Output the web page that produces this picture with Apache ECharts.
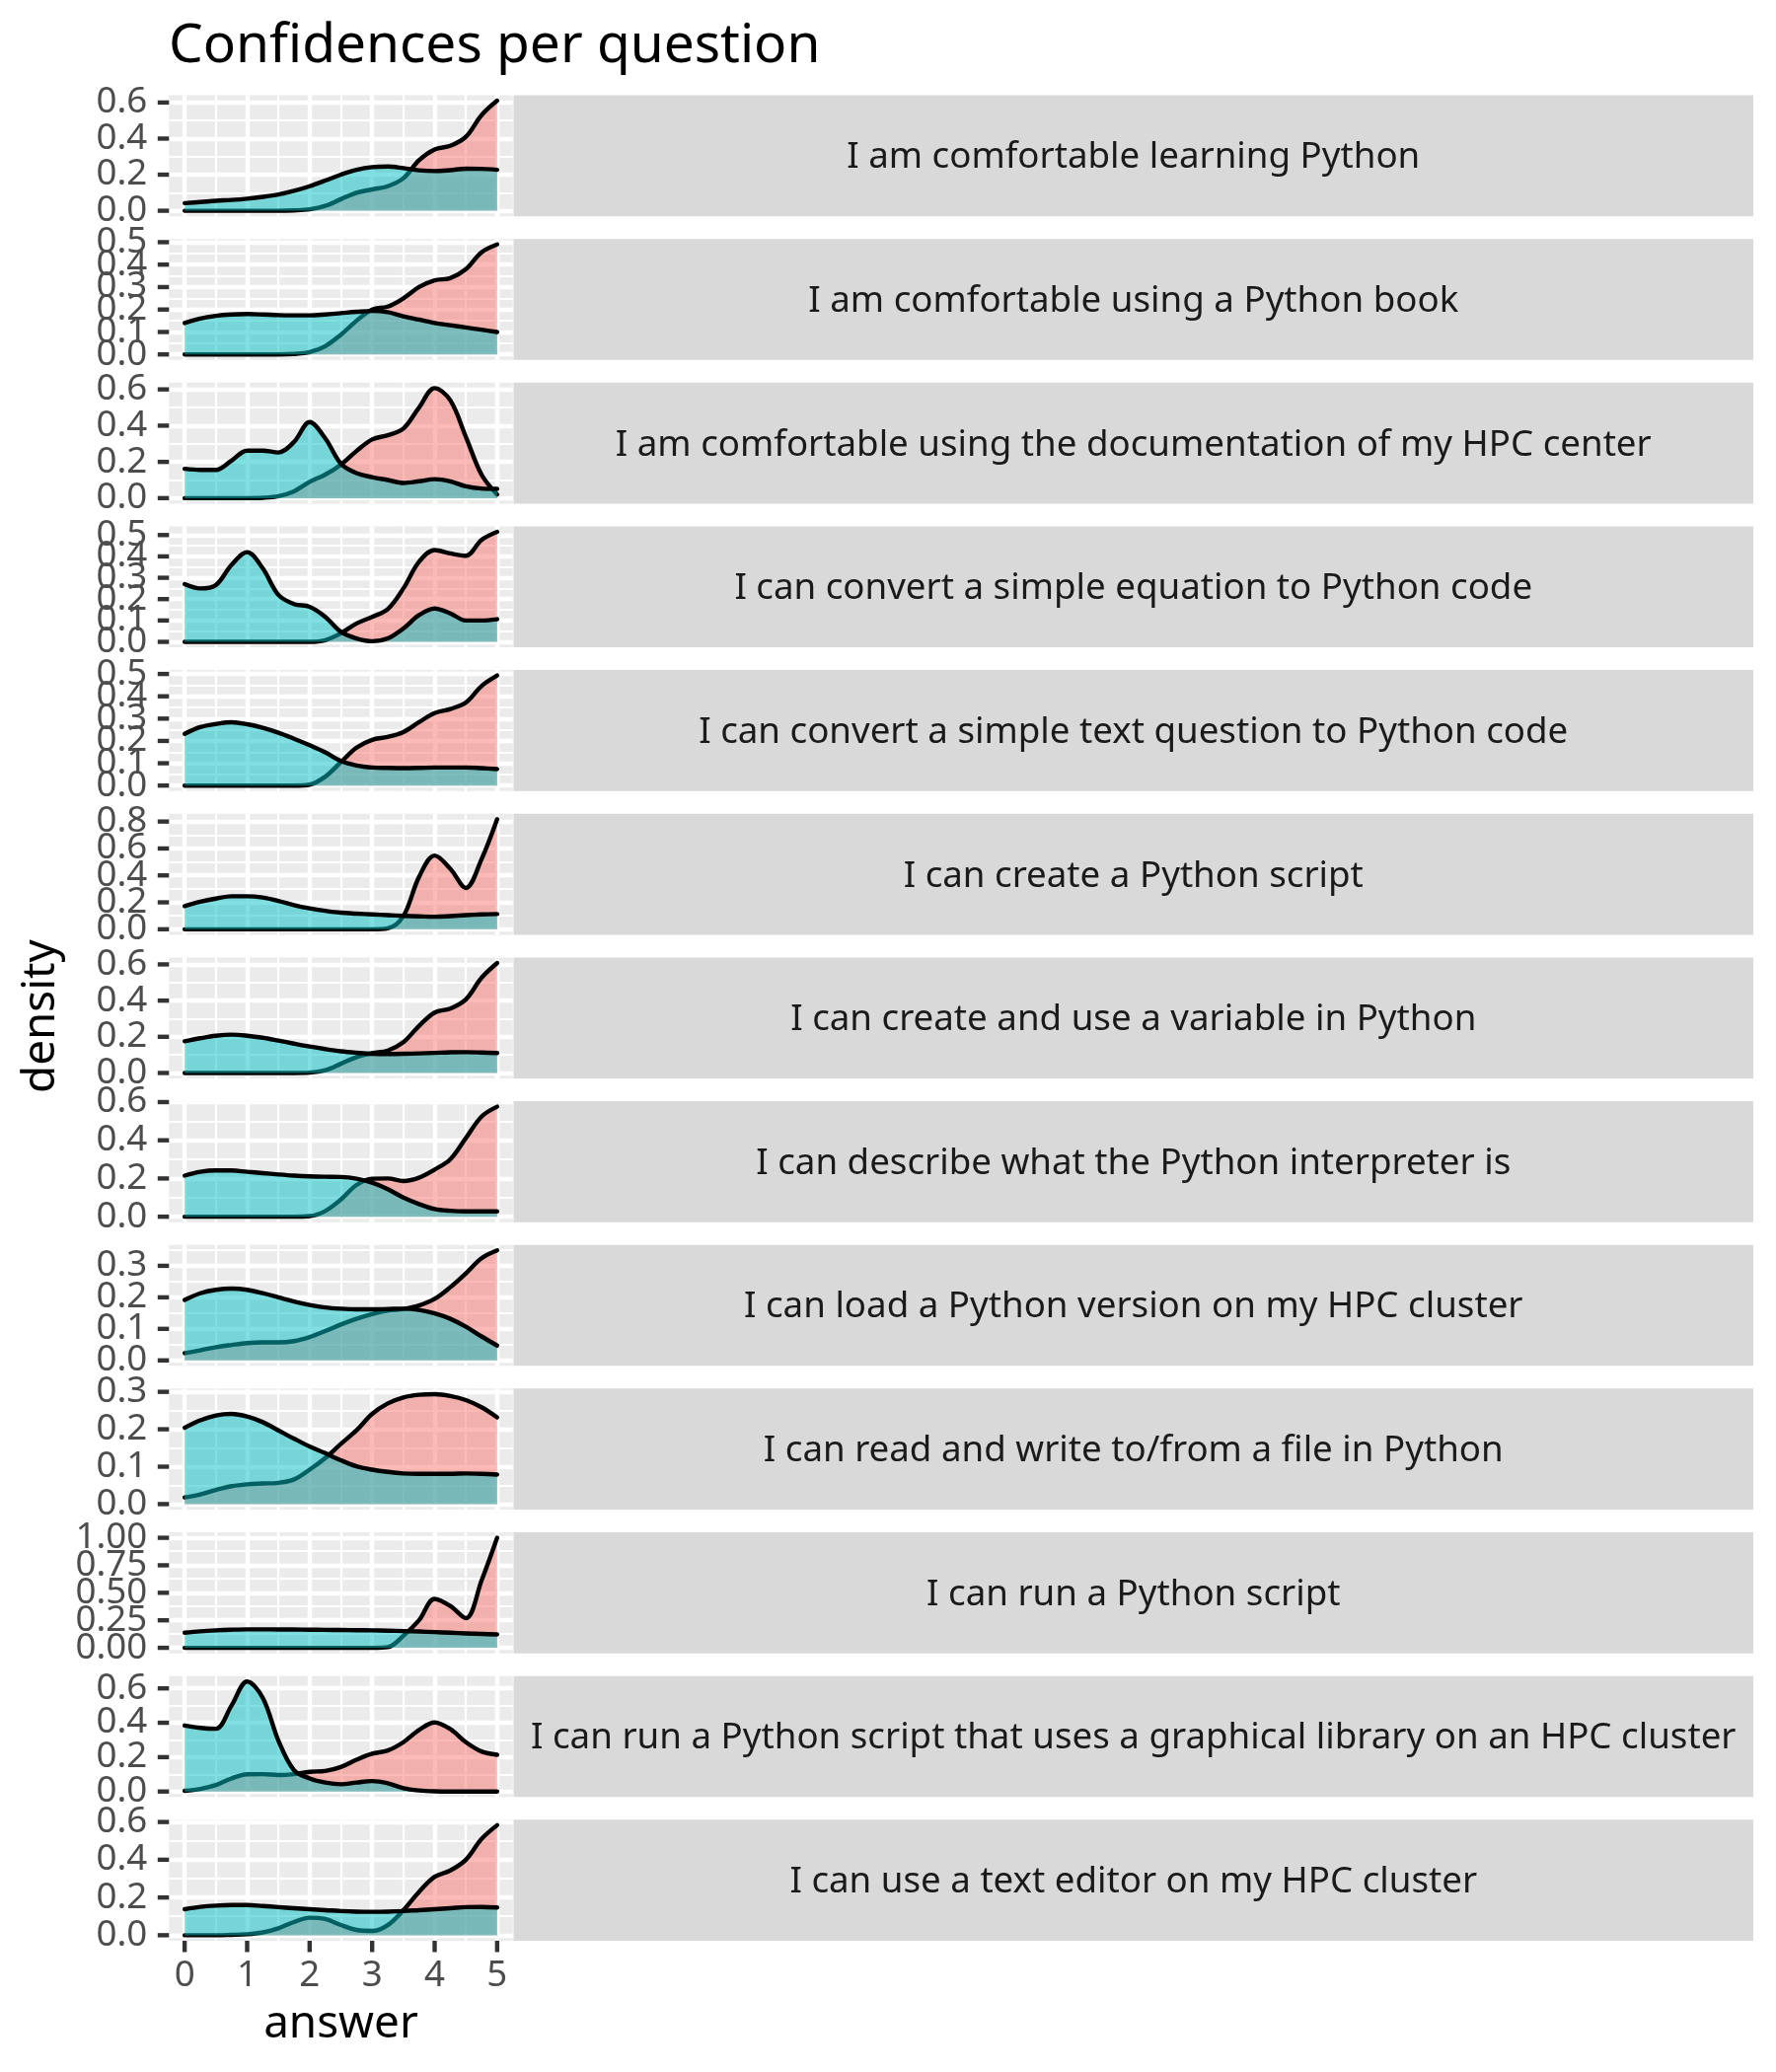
<!DOCTYPE html>
<html>
<head>
<meta charset="utf-8">
<script src="https://cdn.jsdelivr.net/npm/echarts@6/dist/echarts.min.js"></script>
<style>
html,body{margin:0;padding:0;background:#ffffff;}
#chart{width:1800px;height:2100px;}
</style>
</head>
<body>
<div id="chart"></div>
<script>
// ---------------- data ----------------
const questions = [
  "I am comfortable learning Python",
  "I am comfortable using a Python book",
  "I am comfortable using the documentation of my HPC center",
  "I can convert a simple equation to Python code",
  "I can convert a simple text question to Python code",
  "I can create a Python script",
  "I can create and use a variable in Python",
  "I can describe what the Python interpreter is",
  "I can load a Python version on my HPC cluster",
  "I can read and write to/from a file in Python",
  "I can run a Python script",
  "I can run a Python script that uses a graphical library on an HPC cluster",
  "I can use a text editor on my HPC cluster"
];

// answer values at which the densities were read
const answerValues = [0,0.25,0.5,0.75,1,1.25,1.5,1.75,2,2.25,2.5,2.75,3,3.25,3.5,3.75,4,4.25,4.5,4.75,5];

const q01_pink = [0,0,0,0,0,0,0,0.002,0.008,0.027,0.064,0.1,0.118,0.136,0.18,0.28,0.34,0.36,0.41,0.53,0.61];
const q01_cyan = [0.042,0.048,0.055,0.06,0.067,0.077,0.09,0.11,0.136,0.167,0.2,0.227,0.242,0.245,0.236,0.224,0.22,0.225,0.233,0.232,0.227];

const q02_pink = [0,0,0,0,0,0,0,0.002,0.01,0.037,0.088,0.15,0.2,0.213,0.25,0.3,0.33,0.34,0.38,0.455,0.49];
const q02_cyan = [0.14,0.16,0.172,0.178,0.18,0.178,0.175,0.174,0.174,0.178,0.184,0.19,0.194,0.188,0.17,0.155,0.14,0.13,0.12,0.11,0.1];

const q03_pink = [0,0,0,0,0,0.002,0.011,0.038,0.09,0.13,0.185,0.26,0.324,0.347,0.384,0.5,0.607,0.54,0.338,0.13,0.02];
const q03_cyan = [0.162,0.156,0.156,0.207,0.262,0.262,0.252,0.31,0.42,0.33,0.19,0.138,0.116,0.1,0.084,0.093,0.105,0.093,0.065,0.053,0.051];

const q04_pink = [0,0,0,0,0,0,0,0,0,0.008,0.04,0.086,0.117,0.153,0.25,0.375,0.43,0.414,0.403,0.477,0.515];
const q04_cyan = [0.27,0.25,0.266,0.36,0.42,0.344,0.22,0.177,0.164,0.117,0.047,0.016,0.003,0.016,0.0625,0.125,0.156,0.133,0.1,0.1,0.106];

const q05_pink = [0,0,0,0,0,0,0,0,0.004,0.04,0.105,0.17,0.205,0.218,0.24,0.284,0.325,0.343,0.372,0.446,0.493];
const q05_cyan = [0.232,0.262,0.276,0.284,0.275,0.259,0.237,0.21,0.181,0.149,0.11,0.09,0.081,0.079,0.078,0.079,0.081,0.081,0.081,0.078,0.074];

const q06_pink = [0,0,0,0,0,0,0,0,0,0,0,0,0,0.007,0.098,0.388,0.547,0.45,0.307,0.52,0.817];
const q06_cyan = [0.172,0.204,0.228,0.245,0.245,0.236,0.211,0.179,0.155,0.137,0.123,0.116,0.11,0.105,0.1,0.096,0.093,0.098,0.105,0.11,0.113];

const q07_pink = [0,0,0,0,0,0,0,0,0.002,0.015,0.051,0.088,0.11,0.124,0.17,0.26,0.334,0.356,0.407,0.526,0.608];
const q07_cyan = [0.175,0.192,0.206,0.212,0.206,0.195,0.179,0.162,0.146,0.132,0.12,0.112,0.106,0.105,0.106,0.108,0.111,0.114,0.115,0.113,0.11];

const q08_pink = [0,0,0,0,0,0,0,0,0.003,0.03,0.09,0.166,0.199,0.2,0.187,0.204,0.247,0.3,0.412,0.524,0.576];
const q08_cyan = [0.215,0.235,0.242,0.242,0.235,0.228,0.221,0.215,0.211,0.209,0.208,0.199,0.178,0.144,0.1,0.066,0.04,0.031,0.028,0.028,0.028];

const q09_pink = [0.023,0.032,0.042,0.049,0.055,0.057,0.057,0.061,0.074,0.093,0.114,0.132,0.147,0.158,0.163,0.174,0.195,0.232,0.276,0.324,0.349];
const q09_cyan = [0.192,0.213,0.224,0.228,0.224,0.213,0.2,0.187,0.176,0.168,0.164,0.162,0.162,0.163,0.164,0.16,0.149,0.132,0.107,0.076,0.047];

const q10_pink = [0.018,0.026,0.038,0.048,0.053,0.055,0.057,0.066,0.092,0.123,0.161,0.197,0.241,0.269,0.285,0.292,0.294,0.289,0.278,0.259,0.232];
const q10_cyan = [0.204,0.224,0.237,0.241,0.234,0.219,0.197,0.175,0.154,0.136,0.117,0.101,0.092,0.086,0.082,0.081,0.081,0.081,0.082,0.081,0.079];

const q11_pink = [0,0,0,0,0,0,0,0,0,0,0,0,0,0.006,0.11,0.25,0.445,0.38,0.27,0.61,1.0];
const q11_cyan = [0.137,0.15,0.159,0.165,0.168,0.168,0.167,0.166,0.165,0.163,0.162,0.16,0.159,0.156,0.152,0.148,0.143,0.137,0.131,0.126,0.122];

const q12_pink = [0.004,0.015,0.038,0.076,0.1,0.101,0.096,0.101,0.115,0.12,0.143,0.185,0.22,0.239,0.287,0.358,0.402,0.363,0.287,0.233,0.214];
const q12_cyan = [0.384,0.37,0.365,0.5,0.64,0.545,0.296,0.124,0.076,0.052,0.042,0.052,0.061,0.048,0.019,0.006,0.001,0,0,0,0];

const q13_pink = [0,0,0,0.002,0.005,0.015,0.037,0.07,0.093,0.086,0.054,0.028,0.023,0.054,0.133,0.23,0.31,0.343,0.4,0.51,0.583];
const q13_cyan = [0.138,0.15,0.157,0.16,0.16,0.155,0.149,0.143,0.138,0.133,0.128,0.125,0.124,0.125,0.128,0.133,0.138,0.143,0.149,0.15,0.147];

const pinkDensities = [q01_pink,q02_pink,q03_pink,q04_pink,q05_pink,q06_pink,q07_pink,q08_pink,q09_pink,q10_pink,q11_pink,q12_pink,q13_pink];
const cyanDensities = [q01_cyan,q02_cyan,q03_cyan,q04_cyan,q05_cyan,q06_cyan,q07_cyan,q08_cyan,q09_cyan,q10_cyan,q11_cyan,q12_cyan,q13_cyan];

// tick labels
const yTickLabels = [
  ["0.0","0.2","0.4","0.6"],
  ["0.0","0.1","0.2","0.3","0.4","0.5"],
  ["0.0","0.2","0.4","0.6"],
  ["0.0","0.1","0.2","0.3","0.4","0.5"],
  ["0.0","0.1","0.2","0.3","0.4","0.5"],
  ["0.0","0.2","0.4","0.6","0.8"],
  ["0.0","0.2","0.4","0.6"],
  ["0.0","0.2","0.4","0.6"],
  ["0.0","0.1","0.2","0.3"],
  ["0.0","0.1","0.2","0.3"],
  ["0.00","0.25","0.50","0.75","1.00"],
  ["0.0","0.2","0.4","0.6"],
  ["0.0","0.2","0.4","0.6"]
];
const xTickLabels = ["0","1","2","3","4","5"];

// ---------------- layout / style ----------------
const FONT = '"Noto Sans", "DejaVu Sans", sans-serif';
const PANEL_TOP = 96.5, PANEL_H = 122.65, PANEL_STEP = 145.65;
const GRID_LEFT = 171.3, GRID_W = 348.4;
const STRIP_X = 520.5, STRIP_R = 1777;
const LW = 4.4, LW_MINOR = 2.2, TICK_LEN = 11.5;
const PINK = '#F8766D', CYAN = '#00BFC4', TICK_COLOR = '#333333';
const X_MIN = -0.25, X_MAX = 5.25;

const chart = echarts.init(document.getElementById('chart'), null, {renderer: 'canvas'});

const grids = [], xAxes = [], yAxes = [], series = [], graphics = [];
const xTicks = xTickLabels.map(Number);
const xMinor = [];
for (let k = 0; k < xTicks.length - 1; k++) xMinor.push((xTicks[k] + xTicks[k + 1]) / 2);

const labelStyle = {color: '#4D4D4D', fontSize: 36.7, fontFamily: FONT};

for (let i = 0; i < questions.length; i++) {
  const top = PANEL_TOP + i * PANEL_STEP;
  const isLast = i === questions.length - 1;
  const pink = pinkDensities[i], cyan = cyanDensities[i];
  const ymax = Math.max(...pink, ...cyan);
  const ymin = -0.05 * ymax, ytop = 1.05 * ymax;
  const yt = yTickLabels[i].map(Number);
  const step = yt[1] - yt[0];
  const yMinor = [];
  for (let k = 0; k < yt.length; k++) {
    const m = yt[k] + step / 2;
    if (m > ymin && m < ytop) yMinor.push(m);
  }
  const ytEven = yt.filter((v, k) => k % 2 === 0);
  const ytOdd = yt.filter((v, k) => k % 2 === 1);
  const fmt = v => { const idx = yt.findIndex(t => Math.abs(t - v) < 1e-9); return idx >= 0 ? yTickLabels[i][idx] : ''; };

  grids.push({left: GRID_LEFT, top: top, width: GRID_W, height: PANEL_H,
    show: true, backgroundColor: '#EBEBEB', borderWidth: 0, containLabel: false});

  xAxes.push({
    type: 'value', gridIndex: i, min: X_MIN, max: X_MAX,
    axisLine: {show: false, onZero: false}, splitLine: {show: false}, axisTick: {show: false},
    axisLabel: Object.assign({show: isLast, customValues: xTicks, showMinLabel: true, showMaxLabel: true, hideOverlap: false,
      margin: 17,
      formatter: v => { const idx = xTicks.findIndex(t => Math.abs(t - v) < 1e-9); return idx >= 0 ? xTickLabels[idx] : ''; }}, labelStyle)
  });

  // primary y axis: labels of even positions
  yAxes.push({
    type: 'value', gridIndex: i, min: ymin, max: ytop, position: 'left',
    axisLine: {show: false, onZero: false}, splitLine: {show: false}, axisTick: {show: false},
    axisLabel: Object.assign({show: true, customValues: ytEven, showMinLabel: true, showMaxLabel: true, hideOverlap: false,
      margin: 22, formatter: fmt}, labelStyle)
  });
  // twin y axis on the same side: labels of odd positions (so no label gets dropped)
  yAxes.push({
    type: 'value', gridIndex: i, min: ymin, max: ytop, position: 'left', offset: 0,
    axisLine: {show: false, onZero: false}, splitLine: {show: false}, axisTick: {show: false},
    axisLabel: Object.assign({show: ytOdd.length > 0, customValues: ytOdd, showMinLabel: true, showMaxLabel: true, hideOverlap: false,
      margin: 22, formatter: fmt}, labelStyle)
  });
  const yIdx = 2 * i;

  // panel grid lines (white) drawn through the axes' scales
  const gl = [];
  yMinor.forEach(v => gl.push({yAxis: v, lineStyle: {width: LW_MINOR}}));
  xMinor.forEach(v => gl.push({xAxis: v, lineStyle: {width: LW_MINOR}}));
  yt.forEach(v => gl.push({yAxis: v, lineStyle: {width: LW}}));
  xTicks.forEach(v => gl.push({xAxis: v, lineStyle: {width: LW}}));
  series.push({
    type: 'line', name: 'grid' + i, xAxisIndex: i, yAxisIndex: yIdx, data: [], silent: true, z: 1,
    markLine: {silent: true, z: 1, animation: false, symbol: ['none', 'none'], label: {show: false},
      lineStyle: {color: '#FFFFFF', type: 'solid', width: LW}, emphasis: {disabled: true}, data: gl}
  });

  series.push({
    type: 'line', name: 'group 1', xAxisIndex: i, yAxisIndex: yIdx, z: 3,
    data: answerValues.map((x, k) => [x, pink[k]]),
    smooth: 0.35, symbol: 'none', silent: true, animation: false,
    lineStyle: {color: '#000000', width: LW, cap: 'round', join: 'round'},
    areaStyle: {color: PINK, opacity: 0.5, origin: 'auto'}
  });
  series.push({
    type: 'line', name: 'group 2', xAxisIndex: i, yAxisIndex: yIdx, z: 4,
    data: answerValues.map((x, k) => [x, cyan[k]]),
    smooth: 0.35, symbol: 'none', silent: true, animation: false,
    lineStyle: {color: '#000000', width: LW, cap: 'round', join: 'round'},
    areaStyle: {color: CYAN, opacity: 0.5, origin: 'auto'}
  });

  // tick marks on the left edge of the panel, placed via the y scale
  series.push({
    type: 'scatter', name: 'yticks' + i, xAxisIndex: i, yAxisIndex: yIdx, z: 5, clip: false,
    silent: true, animation: false,
    data: yt.map(v => [X_MIN, v]),
    symbol: 'rect', symbolSize: [TICK_LEN, LW], symbolOffset: [-TICK_LEN / 2, 0],
    itemStyle: {color: TICK_COLOR, opacity: 1}
  });
  if (isLast) {
    series.push({
      type: 'scatter', name: 'xticks', xAxisIndex: i, yAxisIndex: yIdx, z: 5, clip: false,
      silent: true, animation: false,
      data: xTicks.map(v => [v, ymin]),
      symbol: 'rect', symbolSize: [LW, TICK_LEN], symbolOffset: [0, TICK_LEN / 2],
      itemStyle: {color: TICK_COLOR, opacity: 1}
    });
  }

  // facet strip
  graphics.push({type: 'rect', silent: true, z: 0,
    shape: {x: STRIP_X, y: top, width: STRIP_R - STRIP_X, height: PANEL_H},
    style: {fill: '#D9D9D9'}});
  graphics.push({type: 'text', silent: true, z: 1,
    x: (STRIP_X + STRIP_R) / 2, y: top + PANEL_H / 2 + 2,
    style: {text: questions[i], fill: '#1A1A1A', fontSize: 36.7, fontFamily: FONT, align: 'center', verticalAlign: 'middle'}});
}

// axis titles
graphics.push({type: 'text', silent: true, x: 345.5, y: 2052,
  style: {text: 'answer', fill: '#000000', fontSize: 45.8, fontFamily: FONT, align: 'center', verticalAlign: 'middle'}});
graphics.push({type: 'text', silent: true, x: 42, y: 1030, rotation: Math.PI / 2,
  style: {text: 'density', fill: '#000000', fontSize: 45.8, fontFamily: FONT, align: 'center', verticalAlign: 'middle'}});

chart.setOption({
  animation: false,
  backgroundColor: '#FFFFFF',
  title: {text: 'Confidences per question', left: 171, top: 20, padding: 0,
    textStyle: {fontSize: 55, fontWeight: 'normal', color: '#000000', fontFamily: FONT}},
  grid: grids,
  xAxis: xAxes,
  yAxis: yAxes,
  series: series,
  graphic: graphics
});
</script>
</body>
</html>
